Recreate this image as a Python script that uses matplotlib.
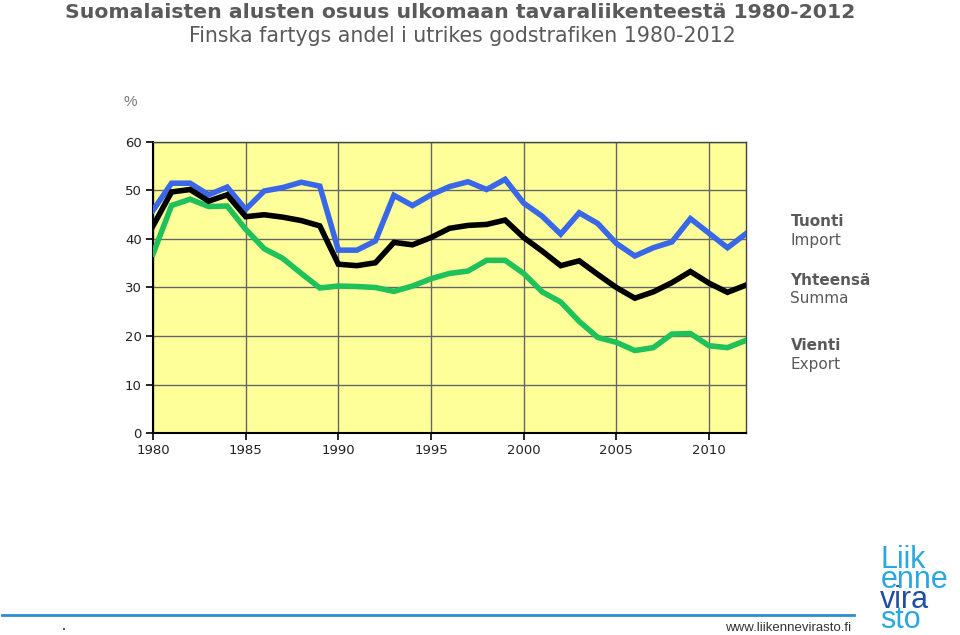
import matplotlib
matplotlib.use("Agg")
import matplotlib.pyplot as plt

# Share of Finnish vessels in foreign trade, %
years = list(range(1980, 2013))
tuonti = [45.9, 51.5, 51.5, 49.1, 50.7, 46.1, 49.9, 50.6, 51.7, 50.9,
          37.7, 37.7, 39.6, 49.0, 46.9, 49.1, 50.8, 51.8, 50.2, 52.3,
          47.4, 44.7, 41.0, 45.4, 43.2, 39.1, 36.5, 38.2, 39.4, 44.2,
          41.2, 38.2, 41.1]
yhteensa = [42.7, 49.7, 50.2, 47.8, 49.1, 44.6, 45.0, 44.5, 43.8, 42.7,
            34.8, 34.5, 35.1, 39.3, 38.8, 40.3, 42.2, 42.8, 43.0, 43.9,
            40.3, 37.5, 34.5, 35.5, 32.7, 30.0, 27.8, 29.1, 31.0, 33.3,
            30.9, 29.0, 30.5]
vienti = [36.9, 46.9, 48.2, 46.7, 46.8, 42.0, 38.0, 36.0, 32.9, 29.9,
          30.3, 30.2, 30.0, 29.2, 30.3, 31.8, 32.9, 33.4, 35.6, 35.6,
          32.9, 29.1, 27.0, 23.0, 19.7, 18.7, 17.0, 17.6, 20.4, 20.5,
          18.0, 17.6, 19.1]

x_ticks = [1980, 1985, 1990, 1995, 2000, 2005, 2010]
y_ticks = [0, 10, 20, 30, 40, 50, 60]

# finnish name, swedish name, centre height of the label pair (in %)
legend_items = [("Tuonti", "Import", 41.65),
                ("Yhteensä", "Summa", 29.55),
                ("Vienti", "Export", 16.05)]

TEXT_GRAY = "#5a5a5a"

fig = plt.figure(figsize=(9.6, 6.35), dpi=100)
ax = fig.add_axes([0.1594, 0.3181, 0.6177, 0.4583])
ax.set_facecolor("#FFFF99")

ax.plot(years, tuonti, color="#3A67E8", linewidth=4, solid_joinstyle="miter", zorder=3)
ax.plot(years, yhteensa, color="#000000", linewidth=4, solid_joinstyle="miter", zorder=4)
ax.plot(years, vienti, color="#1EC15A", linewidth=4, solid_joinstyle="miter", zorder=3)

ax.set_xlim(1980, 2012)
ax.set_ylim(0, 60)
ax.set_xticks(x_ticks)
ax.set_yticks(y_ticks)
ax.grid(True, color="#666666", linewidth=1.0)
ax.set_axisbelow(True)
for side in ["top", "right"]:
    ax.spines[side].set_color("#444444")
    ax.spines[side].set_linewidth(1.0)
for side in ["left", "bottom"]:
    ax.spines[side].set_color("#000000")
    ax.spines[side].set_linewidth(1.5)
ax.tick_params(axis="both", direction="out", length=5, width=1.2,
               labelsize=9.5, colors="#000000", labelcolor="#222222", pad=3)

# titles
fig.text(0.479, 0.981, "Suomalaisten alusten osuus ulkomaan tavaraliikenteestä 1980-2012",
         ha="center", va="center", fontsize=14.7, fontweight="bold",
         color=TEXT_GRAY, family="DejaVu Sans")
fig.text(0.482, 0.943, "Finska fartygs andel i utrikes godstrafiken 1980-2012",
         ha="center", va="center", fontsize=14.8, color=TEXT_GRAY,
         family="DejaVu Sans")
fig.text(0.136, 0.84, "%", ha="center", va="center", fontsize=11,
         color="#777777", family="Liberation Sans")

# legend labels to the right of the plot
for fi, sv, yv in legend_items:
    ax.text(1.075, (yv + 1.9) / 60, fi, transform=ax.transAxes, ha="left",
            va="center", fontsize=11, fontweight="bold", color=TEXT_GRAY,
            family="DejaVu Sans")
    ax.text(1.075, (yv - 1.9) / 60, sv, transform=ax.transAxes, ha="left",
            va="center", fontsize=11, color=TEXT_GRAY, family="DejaVu Sans")

# footer
fig.add_artist(plt.Line2D([0.002, 0.89], [1 - 615 / 635, 1 - 615 / 635],
                          color="#2A8ED0", linewidth=2))
fig.text(0.887, 1 - 628 / 635, "www.liikennevirasto.fi", ha="right", va="center",
         fontsize=9.5, color="#333333", family="Liberation Sans")
fig.text(0.067, 1 - 630 / 635, "•", ha="center", va="center", fontsize=5,
         color="#333333")

# logo
logo = [("Liik", "#2AA7E0", 568), ("enne", "#2AA7E0", 588),
        ("vira", "#1E4FA0", 608), ("sto", "#2AA7E0", 628)]
for word, col, yp in logo:
    fig.text(0.917, 1 - yp / 635, word, ha="left", va="baseline", fontsize=22,
             color=col, family="Liberation Sans")

fig.savefig("out.png", dpi=100, facecolor="white")
